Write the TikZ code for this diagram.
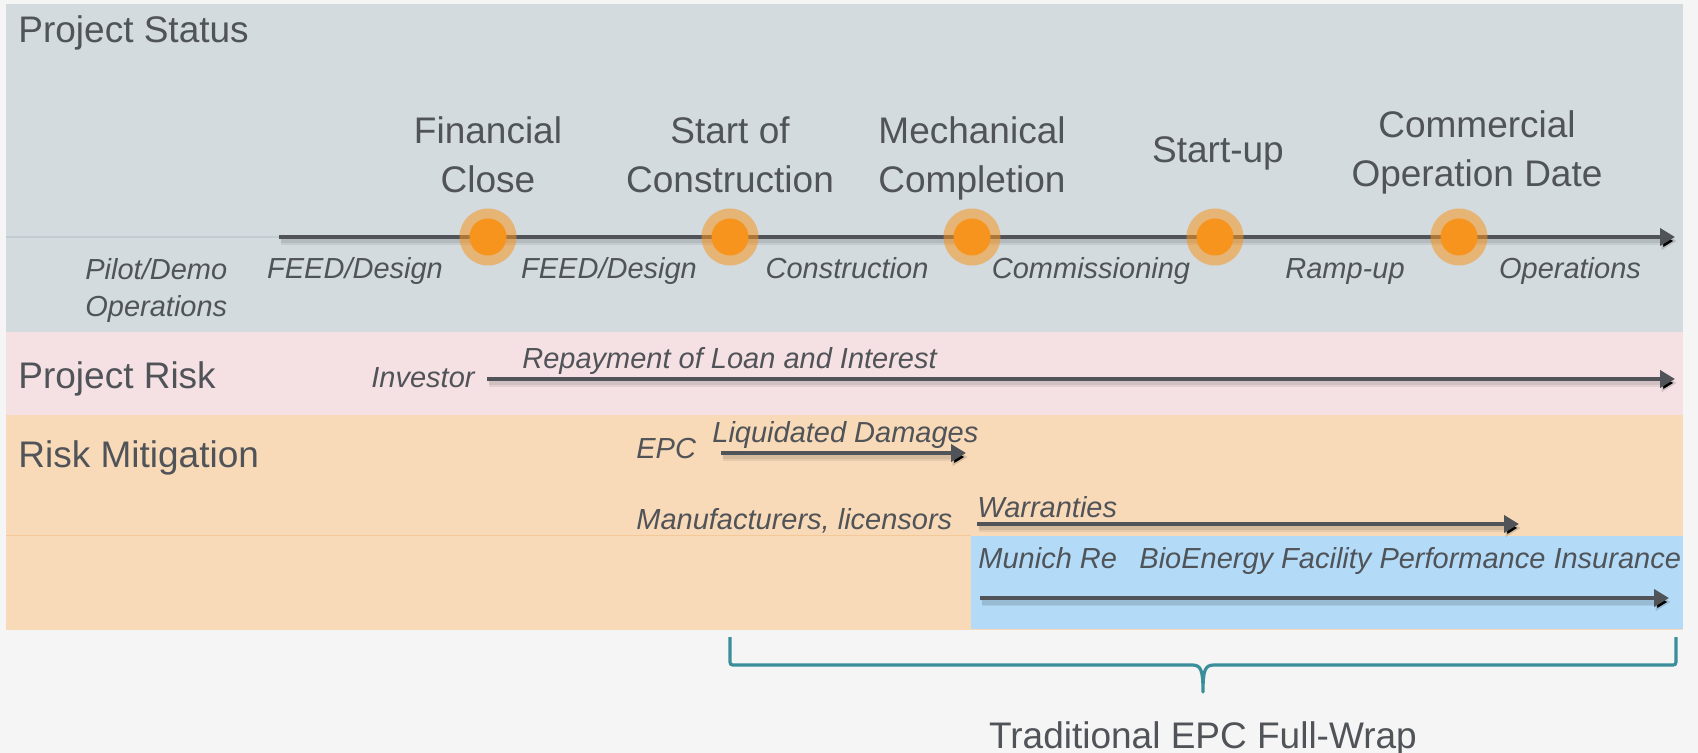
\documentclass[tikz,border=0pt]{standalone}
\usepackage{fontspec}
\setmainfont{Liberation Sans}
\usetikzlibrary{arrows.meta}

\definecolor{pagebg}{HTML}{F5F5F5}
\definecolor{statusbg}{HTML}{D3DBDF}
\definecolor{riskbg}{HTML}{F5E1E3}
\definecolor{mitbg}{HTML}{F8DAB8}
\definecolor{insbg}{HTML}{B3DBF8}
\definecolor{inkgray}{HTML}{505358}
\definecolor{leadgray}{HTML}{C2CCD3}
\definecolor{mitline}{HTML}{F5C898}
\definecolor{msorange}{HTML}{F7941D}
\definecolor{bracecol}{HTML}{3A8F9A}

\tikzset{
  heading/.style={font=\fontsize{18.5}{24.5}\selectfont, text=inkgray, inner sep=0pt},
  phase/.style={font=\fontsize{14.5}{18.5}\selectfont\itshape, text=inkgray, inner sep=0pt},
  milestone/.style={circle, fill=msorange, fill opacity=.55, minimum size=28.5pt, inner sep=0pt},
  milestone core/.style={circle, fill=msorange, minimum size=18.5pt, inner sep=0pt},
  flow/.style={draw=inkgray, line width=2pt, -{Triangle[length=7.5pt,width=8.5pt]},
    preaction={draw=black, draw opacity=.07, line width=4pt,
      transform canvas={shift={(.8pt,-2pt)}}},
    preaction={draw=black, draw opacity=.08, line width=2.5pt,
      transform canvas={shift={(.8pt,-2pt)}}}},
}

\begin{document}
\begin{tikzpicture}[x=.5pt,y=-.5pt]

            % Page and the three bands
            \useasboundingbox[fill=pagebg] (0,0) rectangle (1698,753);
            \fill[statusbg] (6,4) rectangle (1683,332);
            \fill[riskbg] (6,332) rectangle (1683,415);
            \fill[mitbg] (6,415) rectangle (1683,630);
            \draw[mitline, line width=.5pt] (6,536) -- (971,536);
            \fill[insbg] (971,536) rectangle (1683,629);

            % Band titles
            \node[heading, anchor=base west] (status) at (18,43) {Project Status};
            \node[heading, anchor=base west] (risk) at (18,389) {Project Risk};
            \node[heading, anchor=base west] (mitig) at (18,468) {Risk Mitigation};

            % The time line
            \coordinate (tl-lead) at (6,237);
            \coordinate (tl-start) at (279,237);
            \coordinate (tl-end) at (1675,237);
            \draw[leadgray, line width=1pt] (tl-lead) -- (tl-start);
            \draw[flow] (tl-start) -- (tl-end);

            % Milestone dots (loop)
            \foreach \x [count=\i] in {488,730,972,1215,1459} {
                \node[milestone] (ms-\i) at (\x,237) {};
                \node[milestone core] (msc-\i) at (\x,237) {};
            }

            % Milestone labels (base = last line)
            \node[heading, align=center, anchor=base] (fc) at (488,193) {Financial\\Close};
            \node[heading, align=center, anchor=base] (sc) at (730,193) {Start of\\Construction};
            \node[heading, align=center, anchor=base] (mc) at (972,193) {Mechanical\\Completion};
            \node[heading, anchor=base] (su) at (1218,163) {Start-up};
            \node[heading, align=center, anchor=base] (cod) at (1477,187) {Commercial\\Operation Date};

            % Phase labels under the line (loop)
            \node[phase, align=left, anchor=base west] (pilot) at (85,317) {Pilot/Demo\\Operations};
            \foreach \x/\txt in {355/{FEED/Design},609/{FEED/Design},847/{Construction},
                                 1091/{Commissioning},1345/{Ramp-up},1570/{Operations}}
                \node[phase, anchor=base] (ph-\x) at (\x,279) {\txt};

            % Project risk
            \node[phase, anchor=base west] (investor) at (371,388) {Investor};
            \coordinate (loan-s) at (487,379);
            \coordinate (loan-e) at (1675,379);
            \draw[flow] (loan-s) -- (loan-e);
            \node[phase, anchor=base west] (loan) at (522,369) {Repayment of Loan and Interest};

            % Risk mitigation
            \node[phase, anchor=base west] (epc) at (636,459) {EPC};
            \coordinate (ld-s) at (721,453);
            \coordinate (ld-e) at (966,453);
            \draw[flow] (ld-s) -- (ld-e);
            \node[phase, anchor=base west] (ld) at (712,443) {Liquidated Damages};

            \node[phase, anchor=base west] (manuf) at (636,530) {Manufacturers, licensors};
            \coordinate (war-s) at (977,524);
            \coordinate (war-e) at (1519,524);
            \draw[flow] (war-s) -- (war-e);
            \node[phase, anchor=base west] (war) at (977,517) {Warranties};

            \node[phase, anchor=base west] (munich) at (978,568) {Munich Re};
            \node[phase, anchor=base west] (bfpi) at (1139,568) {BioEnergy Facility Performance Insurance};
            \coordinate (ins-s) at (980,598);
            \coordinate (ins-e) at (1669,598);
            \draw[flow] (ins-s) -- (ins-e);

            % Brace under the full-wrap span
            \coordinate (br-l) at (730,637);
            \coordinate (br-r) at (1676,637);
            \coordinate (br-tip) at (1203,692);
            \draw[bracecol, line width=1.6pt, line join=round]
                (br-l) -- (730,659) .. controls (730,665) .. (736,665)
                -- (1192,665) .. controls (1201,665) and (1203,670) .. (br-tip)
                .. controls (1203,670) and (1205,665) .. (1214,665)
                -- (1670,665) .. controls (1676,665) .. (1676,659) -- (br-r);
            \node[heading, anchor=base] (wrap) at (1203,748) {Traditional EPC Full-Wrap};

        \end{tikzpicture}
\end{document}
